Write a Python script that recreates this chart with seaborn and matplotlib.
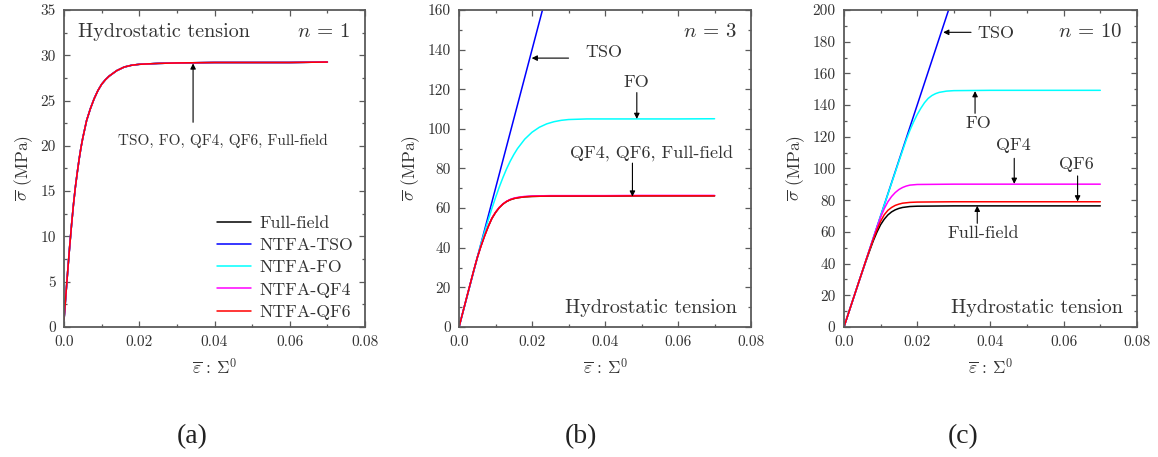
import matplotlib
matplotlib.use("Agg")
import matplotlib.pyplot as plt
from matplotlib.ticker import MultipleLocator, FixedLocator, FixedFormatter
import seaborn as sns

# ---------------------------------------------------------------- data
# (a) n = 1 : every model gives the same response
a_strain = [0.0, 0.0005, 0.001, 0.0015, 0.002, 0.0025, 0.003, 0.0035, 0.004,
            0.0045, 0.005, 0.006, 0.007, 0.008, 0.009, 0.010, 0.011, 0.012,
            0.013, 0.014, 0.016, 0.018, 0.020, 0.025, 0.030, 0.040, 0.050,
            0.060, 0.070]
a_stress = [0.8, 3.6, 6.3, 8.9, 11.3, 13.5, 15.4, 17.0, 18.5,
            19.8, 20.9, 22.8, 24.1, 25.2, 26.1, 26.8, 27.3, 27.7,
            28.0, 28.3, 28.7, 28.9, 29.0, 29.1, 29.15, 29.2, 29.2,
            29.2, 29.25]

# (b) n = 3
b_tso_strain = [0.0, 0.030]
b_tso_stress = [0.0, 210.0]
b_fo_strain = [0.0, 0.004, 0.006, 0.007, 0.008, 0.009, 0.010, 0.011, 0.012,
               0.013, 0.014, 0.015, 0.016, 0.018, 0.020, 0.022, 0.024, 0.026,
               0.028, 0.030, 0.035, 0.040, 0.050, 0.060, 0.070]
b_fo_stress = [0.0, 28.0, 42.0, 48.0, 54.0, 59.8, 65.3, 70.5, 75.3,
               79.7, 83.6, 87.0, 90.0, 94.8, 98.3, 100.8, 102.5, 103.6,
               104.3, 104.7, 105.0, 105.0, 105.0, 105.0, 105.1]
b_qf_strain = [0.0, 0.002, 0.004, 0.005, 0.006, 0.007, 0.008, 0.009, 0.010,
               0.011, 0.012, 0.013, 0.014, 0.015, 0.016, 0.018, 0.020, 0.025,
               0.030, 0.040, 0.050, 0.060, 0.070]
b_full_stress = [0.0, 14.2, 28.3, 35.0, 40.8, 46.0, 50.7, 54.8, 57.8,
                 60.2, 62.0, 63.3, 64.2, 64.8, 65.2, 65.7, 65.9, 66.1,
                 66.1, 66.1, 66.2, 66.2, 66.2]
b_qf4_stress = [0.0, 14.2, 28.3, 35.0, 40.8, 46.0, 50.8, 54.9, 57.9,
                60.3, 62.1, 63.4, 64.4, 65.0, 65.4, 65.9, 66.1, 66.3,
                66.3, 66.3, 66.4, 66.4, 66.4]
b_qf6_stress = [0.0, 14.2, 28.3, 35.0, 40.8, 46.0, 50.7, 54.8, 57.8,
                60.2, 62.0, 63.3, 64.2, 64.8, 65.2, 65.7, 65.9, 66.1,
                66.1, 66.1, 66.2, 66.2, 66.2]

# (c) n = 10
c_tso_strain = [0.0, 0.035]
c_tso_stress = [0.0, 245.0]
c_fo_strain = [0.0, 0.005, 0.010, 0.015, 0.017, 0.018, 0.019, 0.020, 0.021,
               0.022, 0.023, 0.024, 0.025, 0.026, 0.028, 0.030, 0.035, 0.040,
               0.050, 0.060, 0.070]
c_fo_stress = [0.0, 35.0, 70.0, 104.5, 118.0, 124.0, 129.3, 134.0, 138.0,
               141.5, 144.2, 146.0, 147.2, 148.0, 148.8, 149.1, 149.2, 149.3,
               149.3, 149.3, 149.3]
c_qf4_strain = [0.0, 0.005, 0.008, 0.009, 0.010, 0.011, 0.012, 0.013, 0.014,
                0.015, 0.016, 0.017, 0.018, 0.020, 0.025, 0.030, 0.040, 0.050,
                0.060, 0.070]
c_qf4_stress = [0.0, 35.0, 56.0, 62.8, 69.2, 74.6, 79.0, 82.3, 84.8,
                86.7, 88.0, 88.9, 89.5, 89.9, 90.0, 90.1, 90.1, 90.1,
                90.1, 90.1]
c_qf_strain = [0.0, 0.004, 0.006, 0.007, 0.008, 0.009, 0.010, 0.011, 0.012,
               0.013, 0.014, 0.015, 0.016, 0.018, 0.020, 0.025, 0.030, 0.040,
               0.050, 0.060, 0.070]
c_qf6_stress = [0.0, 28.0, 42.0, 48.6, 55.2, 61.2, 66.6, 70.8, 73.6,
                75.4, 76.7, 77.5, 78.1, 78.6, 78.8, 78.9, 79.0, 79.0,
                79.0, 79.0, 79.0]
c_full_stress = [0.0, 28.0, 41.5, 48.0, 54.3, 59.8, 64.5, 68.0, 70.7,
                 72.6, 73.9, 74.8, 75.4, 76.0, 76.2, 76.3, 76.4, 76.4,
                 76.4, 76.4, 76.4]

legend_labels = ["Full-field", "NTFA-TSO", "NTFA-FO", "NTFA-QF4", "NTFA-QF6"]
series_colors = ["black", "blue", "cyan", "magenta", "red"]

x_ticks = [0.0, 0.02, 0.04, 0.06, 0.08]
x_tick_labels = ["0.0", "0.02", "0.04", "0.06", "0.08"]
panel_letters = ["(a)", "(b)", "(c)"]

# ---------------------------------------------------------------- style
sns.set_theme(style="ticks")
plt.rcParams["font.family"] = ["cmr10", "DejaVu Serif"]
plt.rcParams["mathtext.fontset"] = "cm"
plt.rcParams["axes.formatter.use_mathtext"] = True
plt.rcParams["axes.unicode_minus"] = False

TXT = "#333333"
SPINE = "#5a5a5a"
LW = 1.1

fig = plt.figure(figsize=(11.58, 4.57), dpi=100)
H = 0.6937
BOT = 0.2845
ax_a = fig.add_axes([0.0553, BOT, 0.2599, H])
ax_b = fig.add_axes([0.3964, BOT, 0.2522, H])
ax_c = fig.add_axes([0.7288, BOT, 0.2530, H])


def style_axes(ax, ymax, ymajor, yminor, ylabelpad):
    ax.set_xlim(0, 0.08)
    ax.set_ylim(0, ymax)
    ax.xaxis.set_major_locator(FixedLocator(x_ticks))
    ax.xaxis.set_major_formatter(FixedFormatter(x_tick_labels))
    ax.xaxis.set_minor_locator(MultipleLocator(0.01))
    ax.yaxis.set_major_locator(MultipleLocator(ymajor))
    ax.yaxis.set_minor_locator(MultipleLocator(yminor))
    ax.yaxis.set_major_formatter(plt.FuncFormatter(lambda v, p: f"{v:.0f}"))
    ax.tick_params(which="both", direction="in", top=True, right=True,
                   color=SPINE, width=0.9, labelcolor=TXT, labelsize=11)
    ax.tick_params(which="major", length=4, pad=6)
    ax.tick_params(which="minor", length=2.2)
    for s in ax.spines.values():
        s.set_color(SPINE)
        s.set_linewidth(1.3)
    ax.set_xlabel(r"$\overline{\varepsilon}\,:\,\Sigma^0$", fontsize=12.5,
                  color=TXT, labelpad=6)
    ax.set_ylabel(r"$\overline{\sigma}$ (MPa)", fontsize=12.5, color=TXT,
                  labelpad=ylabelpad)
    ax.set_facecolor("white")


def arrow(ax, tip, tail):
    ax.annotate("", xy=tip, xytext=tail,
                arrowprops=dict(arrowstyle="-|>", color="black", lw=0.8,
                                mutation_scale=8, shrinkA=0, shrinkB=0))


# ---------------------------------------------------------------- (a)
for lab, col in zip(legend_labels, series_colors):
    sns.lineplot(x=a_strain, y=a_stress, ax=ax_a, color=col, lw=LW,
                 label=lab, sort=False, estimator=None)
style_axes(ax_a, 35, 5, 2.5, 4)
leg = ax_a.legend(loc="lower right", frameon=False, fontsize=12.8,
                  handlelength=1.9, handletextpad=0.5, labelspacing=0.38,
                  borderaxespad=0.25, bbox_to_anchor=(1.0, -0.014))
for t in leg.get_texts():
    t.set_color(TXT)
ax_a.text(0.0476, 0.93, "Hydrostatic tension", transform=ax_a.transAxes,
          fontsize=14.5, color=TXT, ha="left", va="center")
ax_a.text(0.95, 0.93, r"$n\,=\,1$", transform=ax_a.transAxes, fontsize=15,
          color=TXT, ha="right", va="center")
ax_a.text(0.0423, 20.6, "TSO, FO, QF4, QF6, Full-field", fontsize=11,
          color=TXT, ha="center", va="center")
arrow(ax_a, (0.0343, 29.1), (0.0343, 22.6))

# ---------------------------------------------------------------- (b)
sns.lineplot(x=b_qf_strain, y=b_full_stress, ax=ax_b, color="black", lw=LW,
             sort=False, estimator=None)
sns.lineplot(x=b_tso_strain, y=b_tso_stress, ax=ax_b, color="blue", lw=LW,
             sort=False, estimator=None)
sns.lineplot(x=b_fo_strain, y=b_fo_stress, ax=ax_b, color="cyan", lw=LW,
             sort=False, estimator=None)
sns.lineplot(x=b_qf_strain, y=b_qf4_stress, ax=ax_b, color="magenta", lw=LW,
             sort=False, estimator=None)
sns.lineplot(x=b_qf_strain, y=b_qf6_stress, ax=ax_b, color="red", lw=LW,
             sort=False, estimator=None)
style_axes(ax_b, 160, 20, 10, 4)
ax_b.text(0.951, 0.932, r"$n\,=\,3$", transform=ax_b.transAxes, fontsize=15,
          color=TXT, ha="right", va="center")
ax_b.text(0.951, 0.059, "Hydrostatic tension", transform=ax_b.transAxes,
          fontsize=14.5, color=TXT, ha="right", va="center")
ax_b.text(0.0397, 138.4, "TSO", fontsize=13, color=TXT, ha="center", va="center")
arrow(ax_b, (0.0199, 135.7), (0.0300, 135.7))
ax_b.text(0.0487, 123.4, "FO", fontsize=13, color=TXT, ha="center", va="center")
arrow(ax_b, (0.0487, 105.0), (0.0487, 118.3))
ax_b.text(0.0526, 87.4, "QF4, QF6, Full-field", fontsize=13, color=TXT,
          ha="center", va="center")
arrow(ax_b, (0.0475, 65.8), (0.0475, 82.7))

# ---------------------------------------------------------------- (c)
sns.lineplot(x=c_qf_strain, y=c_full_stress, ax=ax_c, color="black", lw=LW,
             sort=False, estimator=None)
sns.lineplot(x=c_tso_strain, y=c_tso_stress, ax=ax_c, color="blue", lw=LW,
             sort=False, estimator=None)
sns.lineplot(x=c_fo_strain, y=c_fo_stress, ax=ax_c, color="cyan", lw=LW,
             sort=False, estimator=None)
sns.lineplot(x=c_qf4_strain, y=c_qf4_stress, ax=ax_c, color="magenta", lw=LW,
             sort=False, estimator=None)
sns.lineplot(x=c_qf_strain, y=c_qf6_stress, ax=ax_c, color="red", lw=LW,
             sort=False, estimator=None)
style_axes(ax_c, 200, 20, 10, 4)
ax_c.text(0.951, 0.932, r"$n\,=\,10$", transform=ax_c.transAxes, fontsize=15,
          color=TXT, ha="right", va="center")
ax_c.text(0.951, 0.059, "Hydrostatic tension", transform=ax_c.transAxes,
          fontsize=14.5, color=TXT, ha="right", va="center")
ax_c.text(0.0415, 185.3, "TSO", fontsize=13, color=TXT, ha="center", va="center")
arrow(ax_c, (0.0271, 185.9), (0.0347, 185.9))
ax_c.text(0.0367, 128.5, "FO", fontsize=13, color=TXT, ha="center", va="center")
arrow(ax_c, (0.0358, 148.8), (0.0358, 134.8))
ax_c.text(0.0462, 114.4, "QF4", fontsize=13, color=TXT, ha="center", va="center")
arrow(ax_c, (0.0465, 90.3), (0.0465, 106.4))
ax_c.text(0.0635, 102.6, "QF6", fontsize=13, color=TXT, ha="center", va="center")
arrow(ax_c, (0.0638, 79.2), (0.0638, 95.3))
ax_c.text(0.0379, 59.1, "Full-field", fontsize=13, color=TXT, ha="center",
          va="center")
arrow(ax_c, (0.0364, 76.5), (0.0364, 65.4))

# ---------------------------------------------------------------- captions
for xpos, letter in zip([0.1658, 0.5017, 0.8316], panel_letters):
    fig.text(xpos, 0.044, letter, fontsize=20, color="#222222",
             family=["Liberation Serif"], ha="center", va="center")

fig.savefig("out.png", dpi=100, facecolor="white")
